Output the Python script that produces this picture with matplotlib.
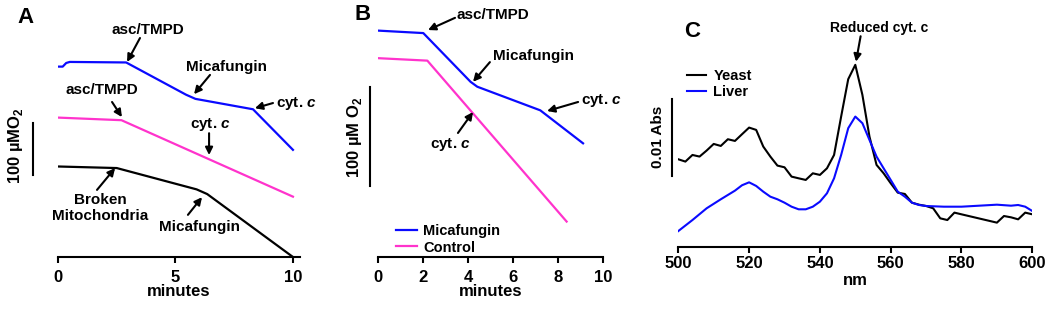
import matplotlib
matplotlib.use("Agg")
import matplotlib.pyplot as plt

plt.rcParams['font.family'] = ['Liberation Sans', 'DejaVu Sans']
plt.rcParams['font.weight'] = 'bold'
plt.rcParams['mathtext.fontset'] = 'custom'
plt.rcParams['mathtext.bf'] = 'Liberation Sans:bold'
plt.rcParams['mathtext.bfit'] = 'Liberation Sans:bold:italic'

# ---- panel A: O2 traces (uM), time in minutes ----
a_blue_t = [0, 0.2, 0.35, 0.5, 2.9, 5.45, 5.85, 8.3, 10]
a_blue_o2 = [366, 366, 373, 375, 374, 312, 304, 284, 206]
a_pink_t = [0, 2.7, 10]
a_pink_o2 = [268, 263, 116]
a_black_t = [0, 2.5, 5.9, 6.35, 10]
a_black_o2 = [174, 171, 130, 121, 0]

# ---- panel B ----
b_mica_t = [0, 2.0, 4.1, 4.4, 7.2, 9.1]
b_mica_o2 = [230, 227.5, 178, 173, 149, 115.5]
b_ctrl_t = [0, 2.18, 8.37]
b_ctrl_o2 = [202, 199.5, 36]

# ---- panel C: spectra (mAbs, offset) ----
yeast_nm = [500, 502, 504, 506, 508, 510, 512, 514, 516, 518, 520, 522, 524, 526, 528,
            530, 532, 534, 536, 538, 540, 542, 544, 546, 548, 550, 552, 554, 556, 558,
            560, 562, 564, 566, 568, 570, 572, 574, 576, 578, 580, 590, 592, 594, 596,
            598, 600]
yeast_abs = [11.34, 11.04, 11.90, 11.69, 12.47, 13.33, 13.07, 13.94, 13.72, 14.59, 15.45,
             15.15, 12.99, 11.69, 10.52, 10.30, 9.09, 8.87, 8.66, 9.52, 9.31, 10.17, 11.90,
             16.88, 21.73, 23.59, 19.70, 14.29, 10.61, 9.52, 8.23, 7.01, 6.84, 5.71, 5.45,
             5.28, 4.98, 3.68, 3.46, 4.42, 4.20, 3.12, 3.98, 3.81, 3.55, 4.42, 4.20]
liver_nm = [500, 504, 508, 512, 516, 518, 520, 522, 524, 526, 528, 530, 532, 534, 536, 538,
            540, 542, 544, 546, 548, 550, 552, 554, 556, 558, 560, 562, 564, 566, 568, 570,
            575, 580, 585, 590, 594, 596, 598, 600]
liver_abs = [2.03, 3.46, 4.98, 6.15, 7.27, 7.97, 8.35, 7.88, 7.14, 6.49, 6.15, 5.71, 5.19,
             4.85, 4.85, 5.19, 5.84, 6.93, 8.87, 11.90, 15.37, 16.88, 16.02, 13.85, 11.69,
             10.17, 8.66, 7.14, 6.49, 5.71, 5.41, 5.28, 5.19, 5.19, 5.32, 5.45, 5.32, 5.41,
             5.19, 4.63]

blue = '#0a0aff'
pink = '#ff33cc'
W, H = 1050, 309

fig = plt.figure(figsize=(W / 100, H / 100), dpi=100)
axA = fig.add_axes([58 / W, 52 / H, 242 / W, 245 / H])
axB = fig.add_axes([378.3 / W, 52 / H, 225 / W, 250 / H])
axC = fig.add_axes([678.3 / W, 62.3 / H, 354 / W, 246.7 / H])

for ax in (axA, axB, axC):
    for s in ('left', 'top', 'right'):
        ax.spines[s].set_visible(False)
    ax.spines['bottom'].set_linewidth(1.5)
    ax.set_yticks([])
    ax.tick_params(axis='x', width=1.5, length=4, labelsize=12)

arrow = dict(arrowstyle='-|>', color='black', lw=1.5, mutation_scale=11,
             shrinkA=0, shrinkB=0)


def arr(ax, head, tail):
    ax.annotate('', xy=head, xytext=tail, arrowprops=arrow, annotation_clip=False)


fs = 11
cytc = 'cyt. $\\mathbfit{c}$'
o2lab = '100 µM O$_\\mathbf{2}$'

# ---- A ----
axA.plot(a_blue_t, a_blue_o2, color=blue, lw=1.6)
axA.plot(a_pink_t, a_pink_o2, color=pink, lw=1.6)
axA.plot(a_black_t, a_black_o2, color='black', lw=1.6)
axA.set_xlim(0, 10.3)
axA.set_ylim(0, 471)
axA.set_xticks([0, 5, 10])
axA.tick_params(axis='x', pad=5)
axA.set_xlabel('minutes', fontsize=12, fontweight='bold', labelpad=0)
axA.plot([-1.06, -1.06], [158, 258], color='black', lw=1.5, clip_on=False)
axA.text(-1.83, 215, '100 µMO$_\\mathbf{2}$', rotation=90, ha='center', va='center',
         fontsize=12)
axA.text(-1.4, 461, 'A', ha='center', va='center', fontsize=16)

axA.text(3.83, 436, 'asc/TMPD', ha='center', va='center', fontsize=fs)
arr(axA, (2.94, 375), (3.49, 421))
axA.text(7.19, 365, 'Micafungin', ha='center', va='center', fontsize=fs)
arr(axA, (5.79, 313), (6.47, 350))
axA.text(9.28, 296, cytc, ha='left', va='center', fontsize=fs)
arr(axA, (8.38, 286), (9.15, 296))
axA.text(1.87, 321, 'asc/TMPD', ha='center', va='center', fontsize=fs)
arr(axA, (2.72, 269), (2.30, 298))
axA.text(6.47, 254, cytc, ha='center', va='center', fontsize=fs)
arr(axA, (6.43, 196), (6.43, 238))
axA.text(1.79, 94, 'Broken\nMitochondria', ha='center', va='center', fontsize=fs,
         linespacing=1.25)
arr(axA, (2.43, 171), (1.66, 129))
axA.text(6.04, 58, 'Micafungin', ha='center', va='center', fontsize=fs)
arr(axA, (6.13, 115), (5.53, 81))

# ---- B ----
axB.plot(b_mica_t, b_mica_o2, color=blue, lw=1.6, label='Micafungin')
axB.plot(b_ctrl_t, b_ctrl_o2, color=pink, lw=1.6, label='Control')
axB.set_xlim(0, 10)
axB.set_ylim(0, 254)
axB.set_xticks([0, 2, 4, 6, 8, 10])
axB.tick_params(axis='x', pad=5)
axB.set_xlabel('minutes', fontsize=12, fontweight='bold', labelpad=0)
axB.plot([-0.39, -0.39], [72.4, 172.4], color='black', lw=1.5, clip_on=False)
axB.text(-1.04, 122, o2lab, rotation=90, ha='center', va='center', fontsize=12)
axB.text(-0.68, 246, 'B', ha='center', va='center', fontsize=16)
axB.legend(loc='lower left', bbox_to_anchor=(0.04, -0.025), frameon=False,
           handlelength=1.45, handletextpad=0.4, labelspacing=0.15, borderaxespad=0.2,
           prop={'weight': 'bold', 'size': 10.5})

axB.text(3.48, 246, 'asc/TMPD', ha='left', va='center', fontsize=fs)
arr(axB, (2.21, 230.6), (3.41, 243))
axB.text(5.08, 204, 'Micafungin', ha='left', va='center', fontsize=fs)
arr(axB, (4.21, 178), (4.96, 198))
axB.text(9.0, 159.5, cytc, ha='left', va='center', fontsize=fs)
arr(axB, (7.5, 148.3), (8.88, 157.5))
axB.text(3.19, 113.8, cytc, ha='center', va='center', fontsize=fs)
arr(axB, (4.21, 147.3), (3.54, 126))

# ---- C ----
axC.plot(yeast_nm, yeast_abs, color='black', lw=1.5, label='Yeast')
axC.plot(liver_nm, liver_abs, color=blue, lw=1.5, label='Liver')
axC.set_xlim(500, 600)
axC.set_ylim(0, 32)
axC.set_xticks([500, 520, 540, 560, 580, 600])
axC.tick_params(axis='x', pad=3)
axC.set_xlabel('nm', fontsize=12, fontweight='bold', labelpad=1)
axC.plot([498.1, 498.1], [9.2, 19.2], color='black', lw=1.5, clip_on=False)
axC.text(494.3, 14.2, '0.01 Abs', rotation=90, ha='center', va='center', fontsize=11)
axC.text(503.9, 27.9, 'C', ha='center', va='center', fontsize=16)
axC.legend(loc='upper left', bbox_to_anchor=(0.0, 0.755), frameon=False,
           handlelength=1.3, handletextpad=0.5, labelspacing=0.1, borderaxespad=0.2,
           prop={'weight': 'bold', 'size': 10.5})
axC.text(556.7, 28.4, 'Reduced cyt. c', ha='center', va='center', fontsize=10)
arr(axC, (550.2, 24.0), (551.5, 27.3))

fig.savefig('out.png', dpi=100)
